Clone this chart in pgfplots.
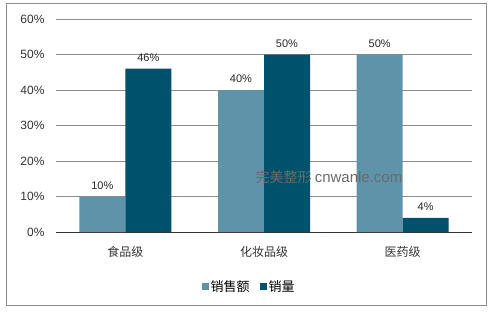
\documentclass[border=0pt]{standalone}
\usepackage{pgfplots}
\pgfplotsset{compat=1.18}
\usepackage{fontspec}
\setmainfont{Liberation Sans}
\newfontfamily\cjk{Noto Sans CJK SC}
\definecolor{lightb}{HTML}{5F93A9}
\definecolor{darkb}{HTML}{00526C}
\definecolor{gridc}{HTML}{8C8C8C}
\begin{document}
\begin{tikzpicture}[x=1pt,y=1pt]
\path[use as bounding box] (0,0) rectangle (500,314);
\draw[draw=gridc, line width=1pt] (6,9) rectangle (486,310);
\begin{axis}[
  at={(56pt,82pt)}, anchor=south west,
  scale only axis, width=416pt, height=213pt,
  ybar=0pt, bar width=46pt,
  ymin=0, ymax=60, ytick={0,10,...,60},
  xmin=-0.5, xmax=2.5, xtick={0,1,2},
  xticklabels={食品级,化妆品级,医药级},
  yticklabel={\pgfmathprintnumber{\tick}\%},
  /pgf/number format/assume math mode=true,
  axis x line*=bottom, axis y line*=left,
  y axis line style={draw=none},
  x axis line style={draw=black!80, line width=1pt},
  major tick length=0pt,
  ymajorgrids, grid style={draw=gridc, line width=0.8pt},
  yticklabel style={font=\fontsize{12}{14}\selectfont, text=black!80, xshift=-8pt},
  xticklabel style={font=\cjk\fontsize{12}{14}\selectfont, text=black!80, yshift=-11pt},
  nodes near coords={\pgfmathprintnumber{\pgfplotspointmeta}\%},
  every node near coord/.append style={font=\fontsize{11}{13}\selectfont, text=black!85, yshift=3.5pt},
  legend style={at={(0.464,-0.258)}, anchor=center, draw=none, legend columns=-1,
    font=\cjk\fontsize{13}{15}\selectfont, /tikz/every even column/.append style={column sep=8pt}},
  legend image code/.code={\fill[#1] (0pt,-3.5pt) rectangle (7pt,3.5pt);},
]
\addplot[fill=lightb, draw=none] coordinates {(0,10) (1,40) (2,50)};
\addplot[fill=darkb, draw=none] coordinates {(0,46) (1,50) (2,4)};
\legend{销售额,销量}
\end{axis}
\node[text=black!58] at (329,137) {\cjk\fontsize{14}{16}\selectfont 完美整形 \fontsize{15}{17}\selectfont\rmfamily cnwanle.com};
\end{tikzpicture}
\end{document}
